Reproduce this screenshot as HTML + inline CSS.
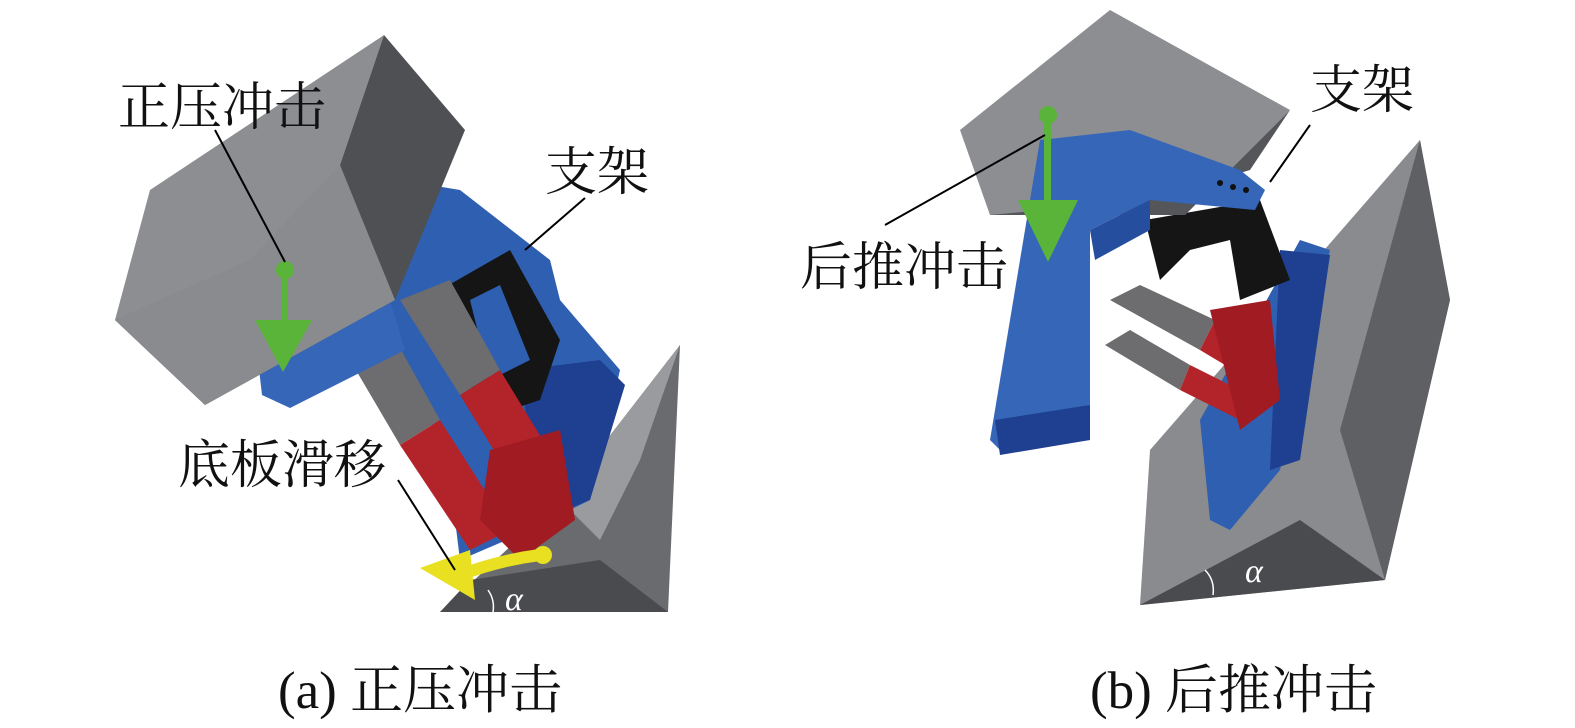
<!DOCTYPE html>
<html><head><meta charset="utf-8"><style>
html,body{margin:0;padding:0;background:#fff;}
svg{display:block}
text{font-family:"Liberation Serif","Noto Serif CJK SC",serif;fill:#111}
</style></head><body>
<svg width="1575" height="728" viewBox="0 0 1575 728" xmlns="http://www.w3.org/2000/svg">
<!-- LEFT FIGURE -->
<polygon points="560,500 680,345 668,612 440,612" fill="#6a6b6f"/>
<polygon points="560,500 680,345 640,460 600,540" fill="#9a9b9f"/>
<polygon points="440,612 668,612 600,560 470,580" fill="#4a4b4f"/>
<polygon points="400,180 460,190 550,260 560,300 620,370 590,500 530,530 460,560 450,480 430,420 380,330" fill="#2f5fb0"/>
<polygon points="520,370 600,360 625,385 590,500 540,520" fill="#1f3f90"/>
<polygon points="440,290 510,250 560,340 540,400 480,420 460,350" fill="#151515"/>
<polygon points="470,300 500,285 530,360 490,380" fill="#2f5fb0"/>
<polygon points="350,360 390,330 440,420 400,445" fill="#6d6d70"/>
<polygon points="400,445 440,420 510,530 470,550" fill="#b2242a"/>
<polygon points="400,300 450,280 500,370 460,395" fill="#6d6d70"/>
<polygon points="460,395 500,370 555,460 515,485" fill="#b2242a"/>
<polygon points="490,450 560,430 575,520 520,560 480,520" fill="#a01c22"/>
<polygon points="258,360 390,300 405,350 290,408 262,395" fill="#3566b8"/>
<polygon points="115,320 150,190 384,35 340,165 250,260" fill="#8d8e92"/>
<polygon points="340,165 384,35 465,130 395,300 205,405 115,320 250,260" fill="#4f5054"/>
<polygon points="115,320 250,260 340,165 395,300 205,405" fill="#8a8b8f"/>
<circle cx="285" cy="270" r="9" fill="#5ab43a"/>
<rect x="281" y="270" width="7" height="55" fill="#5ab43a"/>
<polygon points="255,320 312,320 283,372" fill="#5ab43a"/>
<path d="M540,555 Q500,560 460,575" stroke="#e8e020" stroke-width="12" fill="none"/>
<polygon points="420,568 470,550 475,600" fill="#e8e020"/>
<circle cx="543" cy="555" r="9" fill="#e8e020"/>
<line x1="215" y1="130" x2="285" y2="262" stroke="#000" stroke-width="2"/>
<line x1="585" y1="198" x2="525" y2="250" stroke="#000" stroke-width="2"/>
<line x1="398" y1="480" x2="455" y2="570" stroke="#000" stroke-width="2"/>
<path d="M488,590 Q495,600 493,612" stroke="#fff" stroke-width="1.5" fill="none"/>
<text x="505" y="610" font-size="34" font-style="italic" style="fill:#fff">α</text>
<text x="118" y="125" font-size="52">正压冲击</text>
<text x="545" y="190" font-size="52">支架</text>
<text x="178" y="483" font-size="52">底板滑移</text>
<text x="278" y="708" font-size="53">(a) 正压冲击</text>

<!-- RIGHT FIGURE -->
<polygon points="1140,605 1150,450 1420,140 1450,300 1385,580" fill="#8a8b8f"/>
<polygon points="1140,605 1385,580 1300,520" fill="#4a4b4f"/>
<polygon points="1420,140 1450,300 1385,580 1340,430" fill="#5f6064"/>
<polygon points="1200,420 1300,240 1330,250 1280,470 1230,530 1210,520" fill="#2f5fb0"/>
<polygon points="1280,250 1330,255 1300,460 1270,470" fill="#1f3f90"/>
<polygon points="1110,300 1140,285 1215,320 1200,350" fill="#6d6d70"/>
<polygon points="1200,350 1215,320 1260,345 1250,380" fill="#b2242a"/>
<polygon points="1105,345 1130,330 1190,365 1180,390" fill="#6d6d70"/>
<polygon points="1180,390 1190,365 1250,395 1240,420" fill="#b2242a"/>
<polygon points="1210,310 1270,300 1280,400 1240,430" fill="#a01c22"/>
<polygon points="1145,220 1260,200 1290,280 1240,300 1230,240 1190,250 1160,280" fill="#151515"/>
<polygon points="960,130 1110,10 1290,110 1185,215 990,215" fill="#8d8e92"/>
<polygon points="990,215 1185,215 1290,110 1250,170 1150,200" fill="#55565a"/>
<polygon points="1020,260 1040,140 1130,130 1240,170 1265,190 1255,210 1150,200 1090,230 1090,440 1000,450 990,440" fill="#3566b8"/>
<polygon points="1090,230 1150,200 1150,230 1095,260" fill="#254e9e"/>
<polygon points="995,420 1090,405 1090,440 1000,455" fill="#1f3f90"/>
<circle cx="1220" cy="183" r="3" fill="#111"/><circle cx="1233" cy="187" r="3" fill="#111"/><circle cx="1246" cy="190" r="3" fill="#111"/>
<circle cx="1048" cy="115" r="9" fill="#5ab43a"/>
<rect x="1044" y="115" width="7" height="90" fill="#5ab43a"/>
<polygon points="1018,200 1078,200 1048,262" fill="#5ab43a"/>
<line x1="885" y1="225" x2="1045" y2="135" stroke="#000" stroke-width="2"/>
<line x1="1310" y1="125" x2="1270" y2="182" stroke="#000" stroke-width="2"/>
<path d="M1205,570 Q1215,580 1213,595" stroke="#fff" stroke-width="1.5" fill="none"/>
<text x="1245" y="582" font-size="34" font-style="italic" style="fill:#fff">α</text>
<text x="1310" y="108" font-size="52">支架</text>
<text x="800" y="285" font-size="52">后推冲击</text>
<text x="1090" y="708" font-size="53">(b) 后推冲击</text>
</svg>
</body></html>
